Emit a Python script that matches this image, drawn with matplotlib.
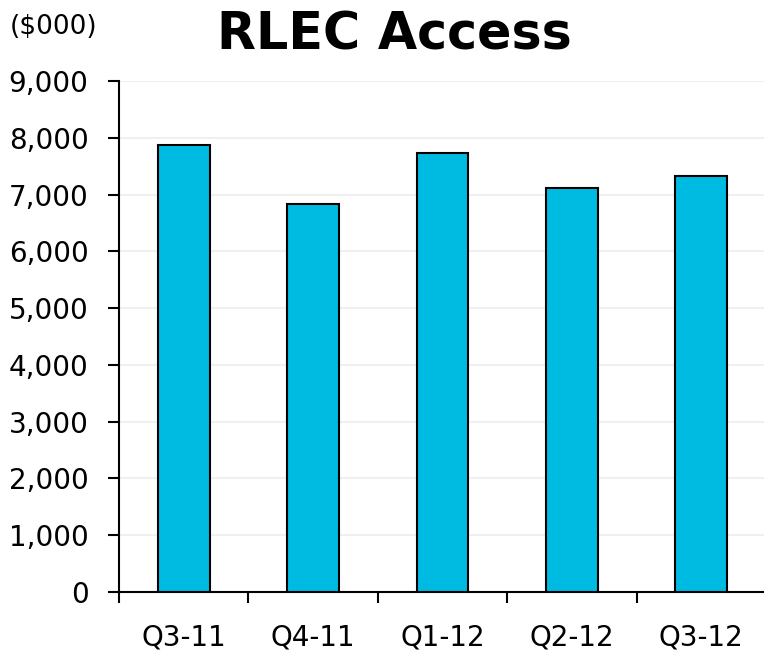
import numpy as np
import matplotlib as mpl
mpl.use('Agg')
import matplotlib.pyplot as plt

quarters = ['Q3-11', 'Q4-11', 'Q1-12', 'Q2-12', 'Q3-12']
access = [7875, 6840, 7735, 7120, 7325]
yticks = np.arange(0, 9001, 1000)

fig = plt.figure(figsize=(7.64, 6.54), dpi=100)
W, H = 764, 654
# axes box in pixels: left 119, right 766, top 81, bottom 592
ax = fig.add_axes([119 / W, (H - 592) / H, (766 - 119) / W, (592 - 81) / H])

x = np.arange(len(quarters))
ax.bar(x, access, width=0.4, color='#00BBE1', edgecolor='black', linewidth=1.5, zorder=3)

ax.set_xlim(-0.5, len(quarters) - 0.5)
ax.set_ylim(0, 9000)
ax.set_yticks(yticks)
ax.set_yticklabels([f'{v:,}' for v in yticks], fontsize=20)
ax.set_xticks(x)
ax.set_xticklabels(quarters, fontsize=20)
ax.tick_params(axis='x', length=0, pad=23)
ax.set_xticks(np.arange(-0.5, len(quarters), 1), minor=True)
ax.tick_params(axis='x', which='minor', length=8, width=1.5, direction='out')
ax.tick_params(axis='y', length=8, width=1.5, direction='out', pad=14)

ax.grid(axis='y', color='#f0f0f0', linewidth=1.5, zorder=0)
for s in ['top', 'right']:
    ax.spines[s].set_visible(False)
for s in ['left', 'bottom']:
    ax.spines[s].set_linewidth(1.5)

fig.text(394 / W, 1 - 35 / H, 'RLEC Access', fontsize=36.5, fontweight='bold',
         ha='center', va='center')
fig.text(10 / W, 1 - 27 / H, '($000)', fontsize=19, ha='left', va='center')

fig.savefig('out.png', dpi=100)
plt.close()
